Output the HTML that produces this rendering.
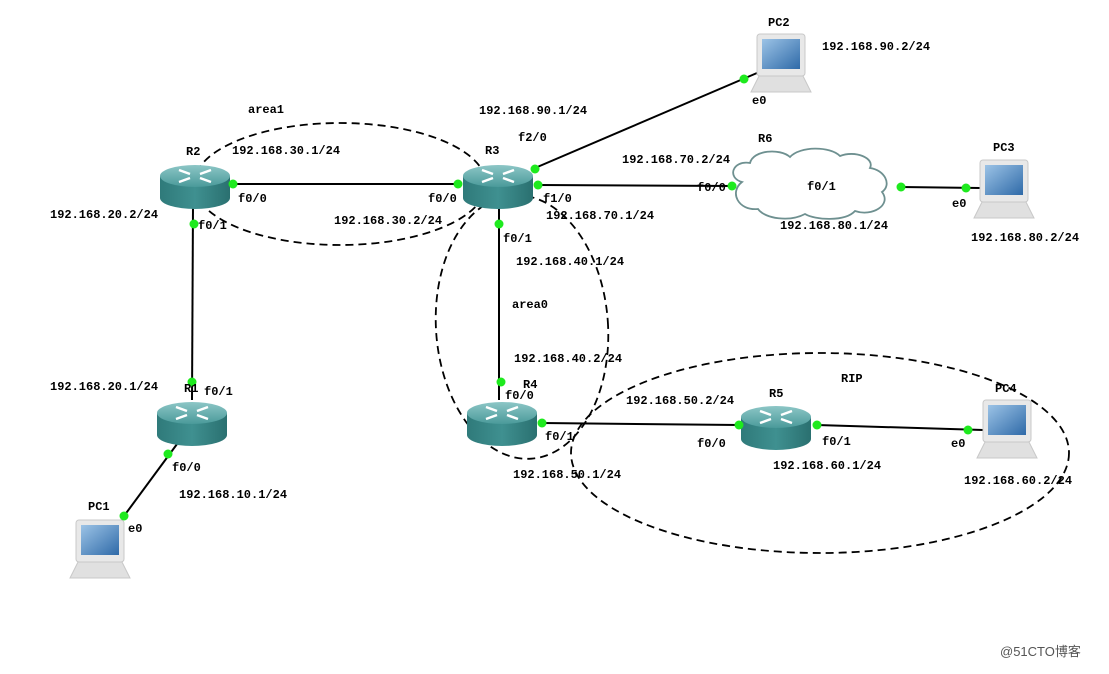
<!DOCTYPE html>
<html><head><meta charset="utf-8"><style>
html,body{margin:0;padding:0;background:#fff;}
svg text{font-family:"Liberation Mono","DejaVu Sans Mono",monospace;font-weight:bold;font-size:12px;fill:#000;}
</style></head><body>
<svg width="1109" height="669" viewBox="0 0 1109 669" xmlns="http://www.w3.org/2000/svg">
<defs>
<linearGradient id="rt" x1="0" y1="0" x2="0" y2="1"><stop offset="0" stop-color="#8cc6c6"/><stop offset="1" stop-color="#4a9a9a"/></linearGradient>
<linearGradient id="rb" x1="0" y1="0" x2="1" y2="0"><stop offset="0" stop-color="#2f7a7a"/><stop offset="0.5" stop-color="#3f9090"/><stop offset="1" stop-color="#2a7070"/></linearGradient>
<linearGradient id="scr" x1="0" y1="0" x2="1" y2="1"><stop offset="0" stop-color="#9cc3e6"/><stop offset="1" stop-color="#2f6aa8"/></linearGradient>
<g id="router">
<path d="M-35,-8 L-35,14 A35,11 0 0 0 35,14 L35,-8 Z" fill="url(#rb)"/>
<ellipse cx="0" cy="-8" rx="35" ry="11" fill="url(#rt)"/>
<g stroke="#fff" stroke-width="2.5" fill="none">
<path d="M-16,-14 L-5,-10 M5,-6 L16,-2 M-16,-2 L-5,-6 M5,-10 L16,-14"/>
</g>
</g>
<g id="pc">
<rect x="-24" y="-30" width="48" height="42" rx="3" fill="#e8e8e8" stroke="#c8c8c8"/>
<rect x="-19" y="-25" width="38" height="30" fill="url(#scr)"/>
<path d="M-22,12 L22,12 L30,28 L-30,28 Z" fill="#e0e0e0" stroke="#c8c8c8"/>
</g>
</defs>

<g fill="none" stroke="#000" stroke-width="1.8" stroke-dasharray="8,5">
<ellipse cx="340" cy="184" rx="146" ry="61"/>
<ellipse cx="522" cy="327" rx="86" ry="132" transform="rotate(-4 522 327)"/>
<ellipse cx="820" cy="453" rx="249" ry="100"/>
</g>

<g stroke="#000" stroke-width="2" fill="none">
<line x1="232" y1="184" x2="458" y2="184"/>
<line x1="535" y1="168" x2="757" y2="73"/>
<line x1="538" y1="185" x2="733" y2="186"/>
<line x1="901" y1="187" x2="980" y2="188"/>
<line x1="193" y1="205" x2="192" y2="400"/>
<line x1="180" y1="440" x2="124" y2="516"/>
<line x1="499" y1="205" x2="499" y2="400"/>
<line x1="542" y1="423" x2="739" y2="425"/>
<line x1="817" y1="425" x2="983" y2="430"/>
</g>

<path d="M742,182 C727,178 732,160 750,163 C753,150 780,148 790,157 C800,146 830,146 840,156 C855,150 875,158 870,168 C885,170 892,185 882,192 C892,205 872,217 855,211 C845,222 815,220 805,214 C790,222 765,219 758,209 C738,211 729,192 742,182 Z" fill="#fff" stroke="#6e9090" stroke-width="1.8"/>

<use href="#router" x="195" y="184"/>
<use href="#router" x="498" y="184"/>
<use href="#router" x="192" y="421"/>
<use href="#router" x="502" y="421"/>
<use href="#router" x="776" y="425"/>

<use href="#pc" x="781" y="64"/>
<use href="#pc" x="1004" y="190"/>
<use href="#pc" x="100" y="550"/>
<use href="#pc" x="1007" y="430"/>

<g fill="#1eea1e">
<circle cx="233" cy="184" r="4.5"/><circle cx="458" cy="184" r="4.5"/>
<circle cx="535" cy="169" r="4.5"/><circle cx="538" cy="185" r="4.5"/>
<circle cx="744" cy="79" r="4.5"/><circle cx="732" cy="186" r="4.5"/>
<circle cx="901" cy="187" r="4.5"/><circle cx="966" cy="188" r="4.5"/>
<circle cx="194" cy="224" r="4.5"/><circle cx="192" cy="382" r="4.5"/>
<circle cx="168" cy="454" r="4.5"/><circle cx="124" cy="516" r="4.5"/>
<circle cx="499" cy="224" r="4.5"/><circle cx="501" cy="382" r="4.5"/>
<circle cx="542" cy="423" r="4.5"/><circle cx="739" cy="425" r="4.5"/>
<circle cx="817" cy="425" r="4.5"/><circle cx="968" cy="430" r="4.5"/>
</g>

<text x="768" y="26">PC2</text>
<text x="822" y="50">192.168.90.2/24</text>
<text x="752" y="104">e0</text>
<text x="479" y="114">192.168.90.1/24</text>
<text x="248" y="113">area1</text>
<text x="518" y="141">f2/0</text>
<text x="186" y="155">R2</text>
<text x="232" y="154">192.168.30.1/24</text>
<text x="485" y="154">R3</text>
<text x="622" y="163">192.168.70.2/24</text>
<text x="758" y="142">R6</text>
<text x="993" y="151">PC3</text>
<text x="238" y="202">f0/0</text>
<text x="428" y="202">f0/0</text>
<text x="543" y="202">f1/0</text>
<text x="697" y="191">f0/0</text>
<text x="807" y="190">f0/1</text>
<text x="952" y="207">e0</text>
<text x="50" y="218">192.168.20.2/24</text>
<text x="198" y="229">f0/1</text>
<text x="334" y="224">192.168.30.2/24</text>
<text x="546" y="219">192.168.70.1/24</text>
<text x="780" y="229">192.168.80.1/24</text>
<text x="971" y="241">192.168.80.2/24</text>
<text x="503" y="242">f0/1</text>
<text x="516" y="265">192.168.40.1/24</text>
<text x="512" y="308">area0</text>
<text x="514" y="362">192.168.40.2/24</text>
<text x="841" y="382">RIP</text>
<text x="50" y="390">192.168.20.1/24</text>
<text x="184" y="392">R1</text>
<text x="204" y="395">f0/1</text>
<text x="523" y="388">R4</text>
<text x="505" y="399">f0/0</text>
<text x="626" y="404">192.168.50.2/24</text>
<text x="769" y="397">R5</text>
<text x="995" y="392">PC4</text>
<text x="545" y="440">f0/1</text>
<text x="697" y="447">f0/0</text>
<text x="822" y="445">f0/1</text>
<text x="951" y="447">e0</text>
<text x="773" y="469">192.168.60.1/24</text>
<text x="513" y="478">192.168.50.1/24</text>
<text x="964" y="484">192.168.60.2/24</text>
<text x="172" y="471">f0/0</text>
<text x="179" y="498">192.168.10.1/24</text>
<text x="88" y="510">PC1</text>
<text x="128" y="532">e0</text>
<text x="1000" y="656" style="font-family:'Liberation Sans','Noto Sans CJK SC',sans-serif;font-weight:normal;font-size:13px;fill:#555">@51CTO博客</text>
</svg>
</body></html>
